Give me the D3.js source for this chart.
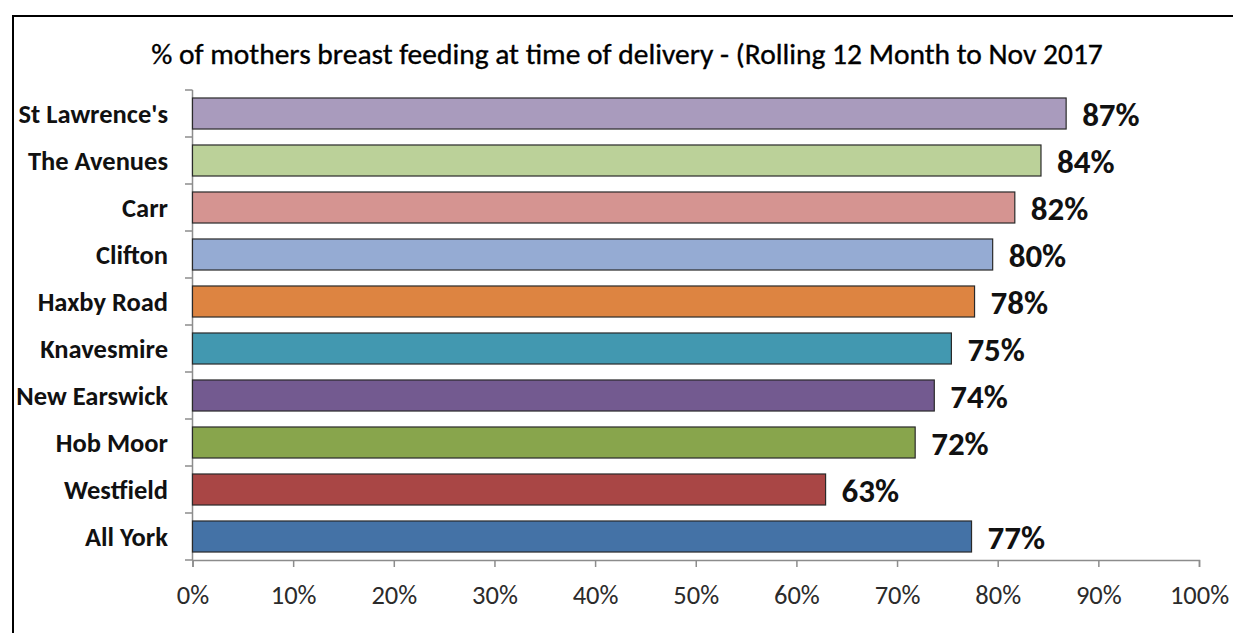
<!DOCTYPE html>
<html><head><meta charset="utf-8">
<script src="https://cdn.jsdelivr.net/npm/d3@7"></script>
<style>html,body{margin:0;padding:0;background:#fff;}svg{display:block;font-family:Carlito,Calibri,Lato,sans-serif;}</style>
</head><body>
<svg id="chart" width="1233" height="633"></svg>
<script>
const title = "% of mothers breast feeding at time of delivery - (Rolling 12 Month to Nov 2017";
const categories = ["St Lawrence's","The Avenues","Carr","Clifton","Haxby Road","Knavesmire","New Earswick","Hob Moor","Westfield","All York"];
const values = [86.8, 84.3, 81.7, 79.5, 77.7, 75.4, 73.7, 71.8, 62.9, 77.4];
const valueLabels = ["87%","84%","82%","80%","78%","75%","74%","72%","63%","77%"];
const colors = ["#A99BBD","#BBD199","#D59491","#95ABD3","#DD8441","#4298B0","#735A90","#88A54C","#A94645","#4472A6"];
const ticks = [0,10,20,30,40,50,60,70,80,90,100];

const svg = d3.select("#chart");
const FF = "Carlito,Calibri,Lato,sans-serif";
// frame
svg.append("line").attr("x1",13).attr("x2",1233).attr("y1",16).attr("y2",16).attr("stroke","#000").attr("stroke-width",2);
svg.append("line").attr("x1",13).attr("x2",13).attr("y1",15).attr("y2",633).attr("stroke","#000").attr("stroke-width",2);

svg.append("text").attr("x",627).attr("y",64).attr("text-anchor","middle")
  .attr("font-size",29.5).attr("fill","#000").attr("stroke","#000").attr("stroke-width",0.35).text(title);

const x = d3.scaleLinear().domain([0,100]).range([192.5,1199]);
const y = d3.scaleBand().domain(categories).range([90,560]).paddingInner(0.34).paddingOuter(0.17);

// x axis
const xa = svg.append("g").attr("transform","translate(0,560)")
  .call(d3.axisBottom(x).tickValues(ticks).tickFormat(d=>d+"%").tickSize(7).tickPadding(18));
xa.select(".domain").attr("stroke","#8c8c8c").attr("stroke-width",1.5);
xa.selectAll(".tick line").attr("stroke","#8c8c8c").attr("stroke-width",1.5);
xa.selectAll("text").attr("font-size",26.5).attr("fill","#2b2b2b").attr("font-family",FF);

// y axis
const yTicks = d3.range(categories.length+1).map(i=>90 + i*(470/categories.length));
svg.append("line").attr("x1",192.5).attr("x2",192.5).attr("y1",90).attr("y2",560).attr("stroke","#8c8c8c").attr("stroke-width",1.5);
svg.selectAll(".yt").data(yTicks).join("line").attr("class","yt")
  .attr("x1",185).attr("x2",192.5).attr("y1",d=>d).attr("y2",d=>d).attr("stroke","#8c8c8c").attr("stroke-width",1.5);

svg.selectAll(".cat").data(categories).join("text").attr("class","cat")
  .attr("x",168).attr("y",d=>y(d)+y.bandwidth()/2).attr("dy","0.35em")
  .attr("text-anchor","end").attr("font-size",26.5).attr("font-weight","bold").attr("fill","#111").text(d=>d);

svg.selectAll(".bar").data(values).join("rect").attr("class","bar")
  .attr("x",x(0)).attr("y",(d,i)=>y(categories[i]))
  .attr("width",d=>x(d)-x(0)).attr("height",y.bandwidth())
  .attr("fill",(d,i)=>colors[i]).attr("stroke","#2a2a2a").attr("stroke-width",1.2);

svg.selectAll(".val").data(values).join("text").attr("class","val")
  .attr("x",d=>x(d)+16).attr("y",(d,i)=>y(categories[i])+y.bandwidth()/2+1).attr("dy","0.35em")
  .attr("font-size",33).attr("font-weight","bold").attr("fill","#111").text((d,i)=>valueLabels[i]);
</script>
</body></html>
